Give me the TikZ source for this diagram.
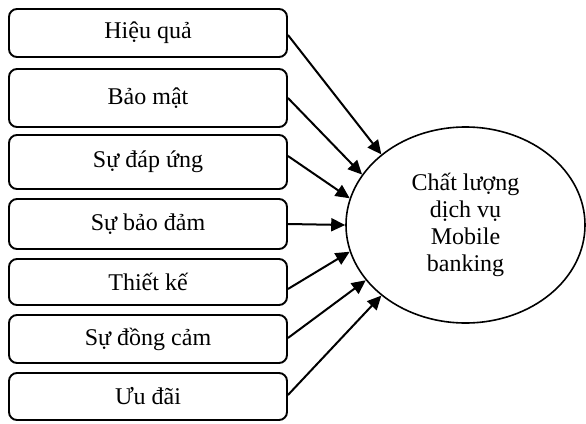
\documentclass[tikz,border=0pt]{standalone}
\usepackage{fontspec}
\setmainfont{Liberation Serif}
\usetikzlibrary{shapes.geometric,arrows.meta,calc}
\tikzset{
  factor/.style={draw, line width=1.9pt, rounded corners=8pt, minimum width=278pt, inner sep=0pt, font=\fontsize{24}{27}\selectfont},
  target/.style={draw, ellipse, line width=1.6pt, minimum width=239pt, minimum height=196pt, inner sep=0pt, align=center, font=\fontsize{24}{27}\selectfont},
  link/.style={line width=2pt, -{Triangle[length=14pt,width=13pt]}}
}
\begin{document}
\begin{tikzpicture}[x=1pt,y=-1pt]
\useasboundingbox (0,0) rectangle (586,423);
\node[factor, minimum height=48pt] (b1) at (148,33) {Hiệu quả};
\node[factor, minimum height=58pt] (b2) at (148,98) {Bảo mật};
\node[factor, minimum height=54pt] (b3) at (148,162) {Sự đáp ứng};
\node[factor, minimum height=50pt] (b4) at (148,224) {Sự bảo đảm};
\node[factor, minimum height=46pt] (b5) at (148,282) {Thiết kế};
\node[factor, minimum height=48pt] (b6) at (148,339) {Sự đồng cảm};
\node[factor, minimum height=47pt] (b7) at (148,396.5) {Ưu đãi};
\node[target] (e) at (465.5,225) {Chất lượng\\dịch vụ\\Mobile\\banking};
\draw[link] ($(b1.east)+(0,2)$) -- (e.140.1);
\draw[link] (b2.east) -- (e.154.3);
\draw[link] ($(b3.east)+(0,-6)$) -- (e.167.2);
\draw[link] (b4.east) -- (e.180);
\draw[link] ($(b5.east)+(0,7)$) -- (e.193.3);
\draw[link] ($(b6.east)+(0,-1)$) -- (e.209.5);
\draw[link] ($(b7.east)+(0,-1.5)$) -- (e.220.2);
\end{tikzpicture}
\end{document}
